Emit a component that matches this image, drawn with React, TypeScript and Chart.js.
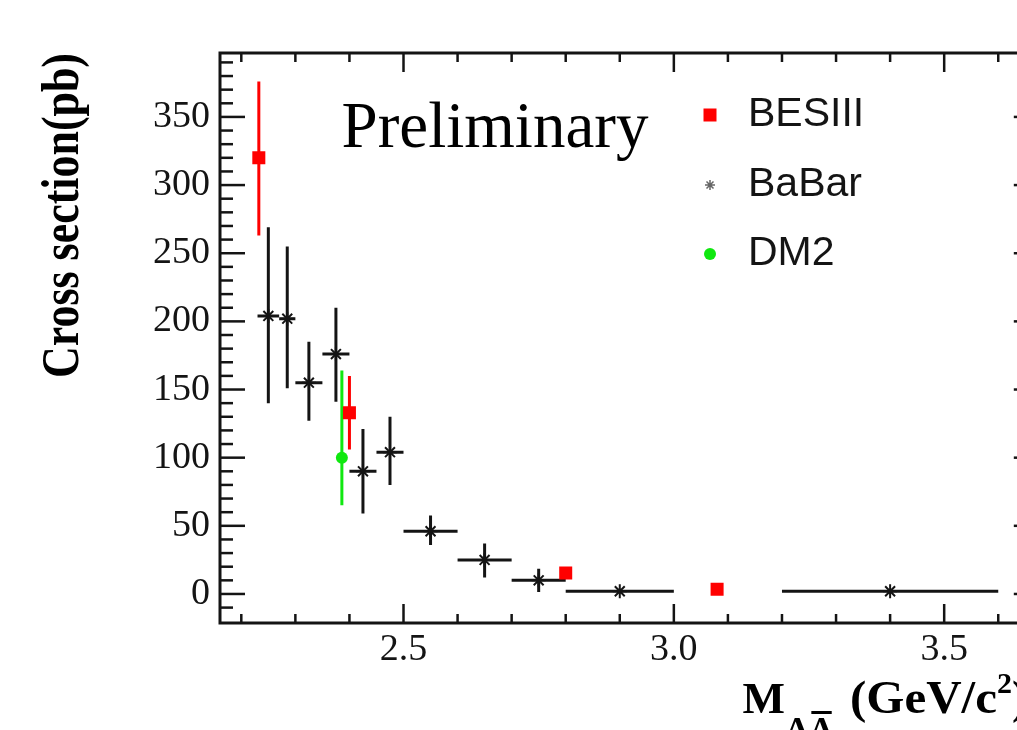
import { useEffect, useRef } from 'react';
import { Chart, registerables } from 'chart.js';
Chart.register(...registerables);

// ---- data ----
const besX = [2.2324, 2.4, 2.8, 3.08];
const besY = [320, 133, 15.4, 3.5];
const besErrUp = [56, 27, 2, 1];
const besErrDown = [57, 27, 2, 1];

const babarX = [2.25, 2.285, 2.325, 2.375, 2.425, 2.475, 2.55, 2.65, 2.75, 2.9, 3.4];
const babarY = [204, 202, 155, 176, 90, 104, 46, 25, 10, 2, 2];
const babarErrUp = [65, 53, 30, 34, 31, 26, 11.5, 12, 8.5, 1, 1];
const babarErrDown = [64, 51, 28, 35, 31, 24, 10, 13, 8.5, 1, 1];
const babarXErr = [0.02, 0.015, 0.025, 0.025, 0.025, 0.025, 0.05, 0.05, 0.05, 0.1, 0.2];

const dm2X = [2.386];
const dm2Y = [100];
const dm2ErrUp = [64];
const dm2ErrDown = [35];

const xMajorTicks = [2.5, 3.0, 3.5];
const yMajorTicks = [0, 50, 100, 150, 200, 250, 300, 350];
const legendLabels = ['BESIII', 'BaBar', 'DM2'];
const yTitle = 'Cross section(pb)';
const preliminaryText = 'Preliminary';

const RED = '#ff0000';
const GREEN = '#10e810';
const INK = '#141414';

const errorBarPlugin = {
  id: 'errorBars',
  beforeDatasetsDraw(chart: any) {
    const { ctx, chartArea, scales } = chart;
    const xs = scales.x;
    const ys = scales.y;
    ctx.save();
    ctx.beginPath();
    ctx.rect(chartArea.left, chartArea.top, chartArea.right - chartArea.left, chartArea.bottom - chartArea.top);
    ctx.clip();
    chart.data.datasets.forEach((ds: any) => {
      ctx.strokeStyle = ds.errColor;
      ctx.lineWidth = 3;
      ds.data.forEach((p: any, i: number) => {
        const px = xs.getPixelForValue(p.x);
        const py = ys.getPixelForValue(p.y);
        const up = ds.errUp ? ds.errUp[i] : 0;
        const dn = ds.errDown ? ds.errDown[i] : 0;
        ctx.beginPath();
        ctx.moveTo(px, ys.getPixelForValue(p.y + up));
        ctx.lineTo(px, ys.getPixelForValue(p.y - dn));
        ctx.stroke();
        if (ds.xErr) {
          const xe = ds.xErr[i];
          ctx.beginPath();
          ctx.moveTo(xs.getPixelForValue(p.x - xe), py);
          ctx.lineTo(xs.getPixelForValue(p.x + xe), py);
          ctx.stroke();
        }
      });
    });
    ctx.restore();
  },
};

const framePlugin = {
  id: 'frame',
  afterDatasetsDraw(chart: any) {
    const { ctx, chartArea, scales } = chart;
    const { left, right, top, bottom } = chartArea;
    const xs = scales.x;
    const ys = scales.y;
    ctx.save();
    ctx.strokeStyle = INK;
    ctx.lineWidth = 3;
    ctx.strokeRect(left, top, right - left, bottom - top);
    ctx.lineWidth = 2.5;
    const line = (a: number, b: number, c: number, d: number) => {
      ctx.beginPath();
      ctx.moveTo(a, b);
      ctx.lineTo(c, d);
      ctx.stroke();
    };
    for (let k = -2; k <= 39; k++) {
      const v = k * 10;
      const py = ys.getPixelForValue(v);
      if (py < top + 2 || py > bottom - 2) continue;
      const len = k % 5 === 0 ? 25 : 13;
      line(left, py, left + len, py);
      line(right, py, right - len, py);
    }
    for (let k = 22; k <= 36; k++) {
      const v = k / 10;
      const px = xs.getPixelForValue(v);
      if (px < left + 2 || px > right - 2) continue;
      const len = k % 5 === 0 ? 19 : 9;
      line(px, bottom, px, bottom - len);
      line(px, top, px, top + len);
    }
    ctx.restore();
  },
};

const textPlugin = {
  id: 'texts',
  afterDraw(chart: any) {
    const { ctx } = chart;
    ctx.save();
    // Preliminary
    ctx.fillStyle = '#000';
    ctx.font = '65px "Liberation Serif"';
    ctx.textAlign = 'left';
    ctx.textBaseline = 'alphabetic';
    ctx.fillText(preliminaryText, 341.5, 147);

    // legend
    const lx = 710;
    const rows = [115, 185, 254];
    ctx.font = '41px "Liberation Sans"';
    ctx.textBaseline = 'middle';
    ctx.fillStyle = INK;
    legendLabels.forEach((lab, i) => ctx.fillText(lab, 748, rows[i]));
    ctx.fillStyle = RED;
    ctx.fillRect(lx - 6.5, rows[0] - 6.5, 13, 13);
    ctx.strokeStyle = '#666';
    ctx.lineWidth = 1.5;
    const r = 5;
    ctx.beginPath();
    ctx.moveTo(lx - r, rows[1]); ctx.lineTo(lx + r, rows[1]);
    ctx.moveTo(lx, rows[1] - r); ctx.lineTo(lx, rows[1] + r);
    ctx.moveTo(lx - r * 0.7, rows[1] - r * 0.7); ctx.lineTo(lx + r * 0.7, rows[1] + r * 0.7);
    ctx.moveTo(lx - r * 0.7, rows[1] + r * 0.7); ctx.lineTo(lx + r * 0.7, rows[1] - r * 0.7);
    ctx.stroke();
    ctx.fillStyle = GREEN;
    ctx.beginPath();
    ctx.arc(lx, rows[2], 6, 0, Math.PI * 2);
    ctx.fill();

    // y title
    ctx.fillStyle = '#000';
    ctx.font = 'bold 53px "Liberation Serif"';
    ctx.textBaseline = 'alphabetic';
    ctx.textAlign = 'right';
    const w = ctx.measureText(yTitle).width;
    ctx.save();
    ctx.translate(78, 53);
    ctx.rotate(-Math.PI / 2);
    ctx.scale(325 / w, 1);
    ctx.fillText(yTitle, 0, 0);
    ctx.restore();

    // x title
    ctx.textAlign = 'left';
    let x = 742.5;
    ctx.font = 'bold 45px "Liberation Serif"';
    ctx.fillText('M', x, 713);
    x += ctx.measureText('M').width;
    ctx.font = 'bold 34px "Liberation Serif"';
    ctx.fillText('\u039B', x, 740);
    const lw = ctx.measureText('\u039B').width;
    ctx.fillText('\u039B', x + lw, 740);
    ctx.fillRect(x + lw + 2, 711, lw - 4, 3);
    // "(GeV/c" spanning roughly 850..997 as in the reference
    ctx.font = 'bold 46px "Liberation Serif"';
    const mid = '(GeV/c';
    const mw = ctx.measureText(mid).width;
    const sx = 147 / mw;
    ctx.save();
    ctx.translate(850, 713);
    ctx.scale(sx, 1);
    ctx.fillText(mid, 0, 0);
    ctx.restore();
    x = 850 + 147;
    ctx.font = 'bold 30px "Liberation Serif"';
    ctx.fillText('2', x, 693);
    x += ctx.measureText('2').width;
    ctx.font = 'bold 46px "Liberation Serif"';
    ctx.fillText(')', x, 713);
    ctx.restore();
  },
};

export default function App() {
  const ref = useRef<HTMLCanvasElement | null>(null);

  useEffect(() => {
    if (!ref.current) return;
    const chart = new Chart(ref.current, {
      type: 'scatter',
      data: {
        datasets: [
          {
            label: 'BaBar',
            data: babarX.map((x, i) => ({ x, y: babarY[i] })),
            pointStyle: 'star',
            radius: 7,
            borderWidth: 2,
            borderColor: INK,
            backgroundColor: INK,
            errUp: babarErrUp,
            errDown: babarErrDown,
            xErr: babarXErr,
            errColor: INK,
          } as any,
          {
            label: 'DM2',
            data: dm2X.map((x, i) => ({ x, y: dm2Y[i] })),
            pointStyle: 'circle',
            radius: 6,
            borderWidth: 0,
            backgroundColor: GREEN,
            errUp: dm2ErrUp,
            errDown: dm2ErrDown,
            errColor: GREEN,
          } as any,
          {
            label: 'BESIII',
            data: besX.map((x, i) => ({ x, y: besY[i] })),
            pointStyle: 'rect',
            radius: 9.2,
            borderWidth: 0,
            backgroundColor: RED,
            errUp: besErrUp,
            errDown: besErrDown,
            errColor: RED,
          } as any,
        ],
      },
      options: {
        responsive: false,
        animation: false,
        devicePixelRatio: 1,
        layout: { padding: { left: 0, right: 2, top: 53, bottom: 0 } },
        plugins: {
          legend: { display: false },
          tooltip: { enabled: false },
        },
        events: [],
        scales: {
          x: {
            type: 'linear',
            min: 2.1606,
            max: 3.675,
            grid: { display: false, drawTicks: false },
            border: { display: false },
            afterBuildTicks: (s: any) => {
              s.ticks = xMajorTicks.map((v) => ({ value: v }));
            },
            afterFit: (s: any) => {
              s.height = 107;
            },
            ticks: {
              autoSkip: false,
              maxRotation: 0,
              padding: 4,
              color: INK,
              font: { family: '"Liberation Serif"', size: 38 },
              callback: (v: any) => Number(v).toFixed(1),
            },
          },
          y: {
            type: 'linear',
            min: -21.3,
            max: 396.9,
            grid: { display: false, drawTicks: false },
            border: { display: false },
            afterBuildTicks: (s: any) => {
              s.ticks = yMajorTicks.map((v) => ({ value: v }));
            },
            afterFit: (s: any) => {
              s.width = 220;
            },
            ticks: {
              autoSkip: false,
              padding: 10,
              color: INK,
              font: { family: '"Liberation Serif"', size: 38 },
              callback: (v: any) => String(v),
            },
          },
        },
      } as any,
      plugins: [errorBarPlugin, framePlugin, textPlugin],
    });
    return () => chart.destroy();
  }, []);

  return (
    <div
      style={{
        position: 'fixed',
        left: 0,
        top: 0,
        width: 1017,
        height: 730,
        overflow: 'hidden',
        background: '#fff',
      }}
    >
      <canvas ref={ref} width={1048} height={730} style={{ display: 'block', width: 1048, height: 730 }} />
    </div>
  );
}
